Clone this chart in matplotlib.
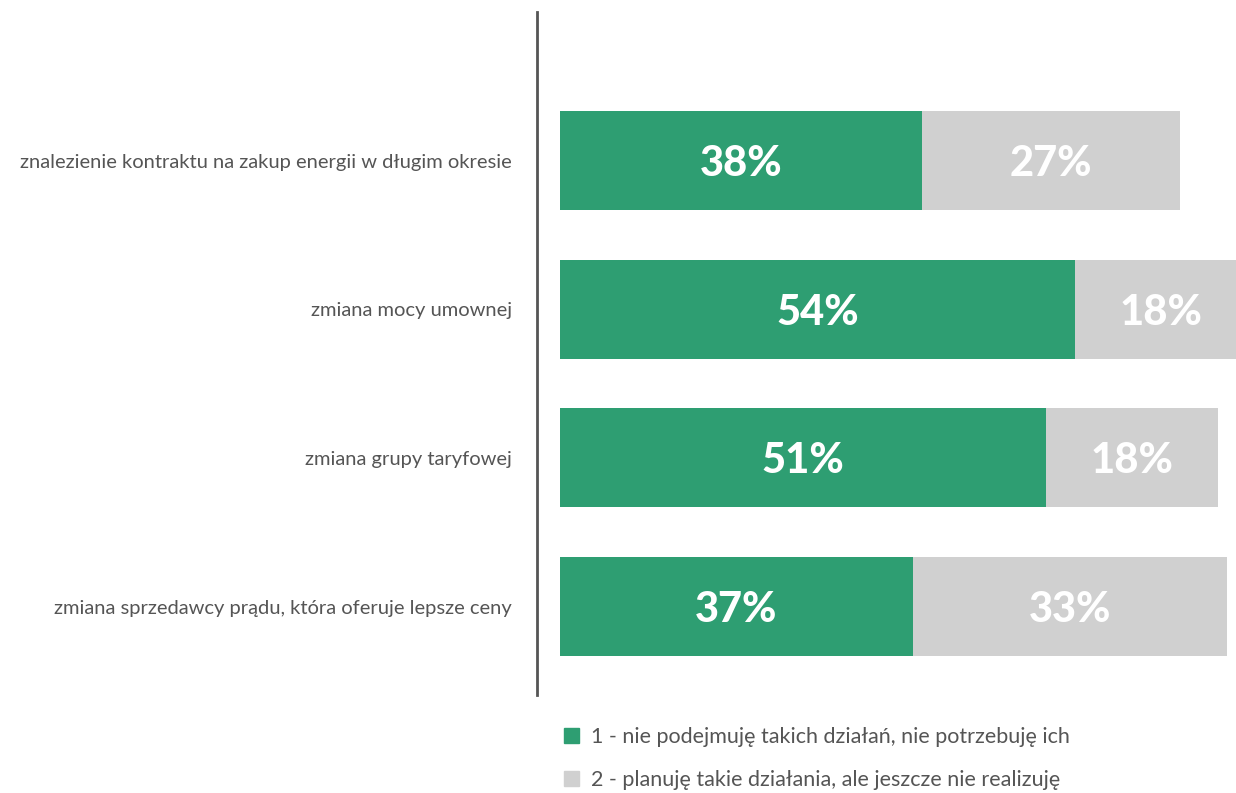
import matplotlib.pyplot as plt
from matplotlib.patches import Patch

# dane
kategorie = ['znalezienie kontraktu na zakup energii w długim okresie',
             'zmiana mocy umownej',
             'zmiana grupy taryfowej',
             'zmiana sprzedawcy prądu, która oferuje lepsze ceny']
nie_potrzebuje = [38, 54, 51, 37]
planuje = [27, 18, 18, 33]
legenda = ['1 - nie podejmuję takich działań, nie potrzebuję ich',
           '2 - planuję takie działania, ale jeszcze nie realizuję']

zielony = '#2e9e72'
szary = '#d0d0d0'

fig = plt.figure(figsize=(12.36, 7.93), dpi=100)
ax = fig.add_axes([537 / 1236, 1 - 695 / 793, 699 / 1236, 683 / 793])

y = range(len(kategorie))
b1 = ax.barh(y, nie_potrzebuje, height=0.666, color=zielony)
b2 = ax.barh(y, planuje, left=nie_potrzebuje, height=0.666, color=szary)

for bars in (b1, b2):
    for rect in bars:
        w = rect.get_width()
        ax.text(rect.get_x() + w / 2, rect.get_y() + rect.get_height() / 2,
                f'{w:.0f}%', ha='center', va='center_baseline', color='white',
                fontsize=30, fontweight='black', family='Lato', clip_on=True)

ax.set_xlim(-2.4, 70.9)
ax.set_ylim(3.595, -1.0)
ax.set_yticks(list(y))
ax.set_yticklabels(kategorie, fontsize=14.5, color='#555555', family='Lato')
ax.tick_params(axis='y', length=0, pad=18)
ax.set_xticks([])
for s in ['top', 'right', 'bottom']:
    ax.spines[s].set_visible(False)
ax.spines['left'].set_color('#555555')
ax.spines['left'].set_linewidth(2)

uchwyty = [Patch(color=zielony), Patch(color=szary)]
fig.legend(uchwyty, legenda, loc='upper left', bbox_to_anchor=(545 / 1236, 1 - 708 / 793),
           frameon=False, labelcolor='#555555', handlelength=0.7,
           handleheight=0.7, handletextpad=0.55, labelspacing=1.05,
           prop={'family': 'Lato', 'size': 15.5})

fig.savefig('out.png', dpi=100)
